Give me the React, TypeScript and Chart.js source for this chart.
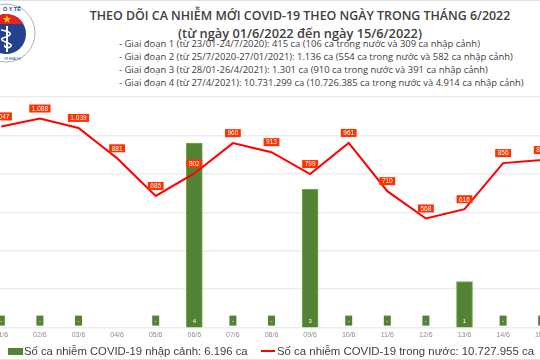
import React, { useEffect, useRef } from "react";
import { Chart, registerables } from "chart.js";

Chart.register(...registerables);

const days = ["01/6", "02/6", "03/6", "04/6", "05/6", "06/6", "07/6", "08/6", "09/6", "10/6", "11/6", "12/6", "13/6", "14/6", "15/6"];
const domestic = [1047, 1088, 1039, 881, 685, 802, 960, 913, 799, 961, 710, 568, 616, 856, 872];
const imported: (number | null)[] = [0, 0, 0, null, 0, 4, 0, 0, 3, 0, 0, 0, 1, 0, 0];

const title = "THEO DÕI CA NHIỄM MỚI COVID-19 THEO NGÀY TRONG THÁNG 6/2022";
const subtitle = "(từ ngày 01/6/2022 đến ngày 15/6/2022)";
const phases = [
  "- Giai đoạn 1 (từ 23/01-24/7/2020): 415 ca (106 ca trong nước và 309 ca nhập cảnh)",
  "- Giai đoạn 2 (từ 25/7/2020-27/01/2021): 1.136 ca (554 ca trong nước và 582 ca nhập cảnh)",
  "- Giai đoạn 3 (từ 28/01-26/4/2021): 1.301 ca (910 ca trong nước và 391 ca nhập cảnh)",
  "- Giai đoạn 4 (từ 27/4/2021): 10.731.299 ca (10.726.385 ca trong nước và 4.914 ca nhập cảnh)",
];
const legendImported = "Số ca nhiễm COVID-19 nhập cảnh: 6.196 ca";
const legendDomestic = "Số ca nhiễm COVID-19 trong nước: 10.727.955 ca";

const fmt = (v: number) => v.toString().replace(/\B(?=(\d{3})+(?!\d))/g, ".");

const labelPlugin = {
  id: "valueLabels",
  afterDatasetsDraw(chart: any) {
    const ctx = chart.ctx;
    ctx.save();
    const barMeta = chart.getDatasetMeta(0);
    ctx.font = "6px 'Liberation Sans'";
    ctx.textAlign = "center";
    ctx.textBaseline = "middle";
    barMeta.data.forEach((el: any, i: number) => {
      const v = imported[i];
      if (v === null || v === undefined) return;
      const x = el.x;
      const base = chart.scales.y1.getPixelForValue(0);
      const cy = base - 7;
      ctx.fillStyle = "#548235";
      ctx.fillRect(x - 3.5, cy - 5, 7, 10);
      ctx.fillStyle = "#ffffff";
      ctx.fillText(v === 0 ? "-" : String(v), x, cy + 0.5);
    });
    const lineMeta = chart.getDatasetMeta(1);
    ctx.font = "6.5px 'Liberation Sans'";
    lineMeta.data.forEach((el: any, i: number) => {
      const t = fmt(domestic[i]);
      const w = ctx.measureText(t).width + 5;
      const cy = el.y - 10;
      ctx.fillStyle = "#ff3300";
      ctx.fillRect(el.x - w / 2, cy - 4, w, 8);
      ctx.fillStyle = "#ffffff";
      ctx.fillText(t, el.x, cy + 0.5);
    });
    ctx.restore();
  },
};

function Logo() {
  return (
    <svg width="50" height="70" viewBox="0 0 50 70" style={{ position: "absolute", left: 0, top: 0, display: "block" }}>
      <defs>
        <clipPath id="innerClip">
          <circle cx="6" cy="34" r="20" />
        </clipPath>
      </defs>
      <circle cx="6" cy="33" r="29" fill="#ffffff" stroke="#a8b0c0" strokeWidth="1" />
      <circle cx="6" cy="34" r="20" fill="#24418f" />
      <rect x="-20" y="13" width="60" height="11" fill="#e52421" clipPath="url(#innerClip)" />
      <polygon points="7,15 8,18 11,18 8.5,20 9.5,23 7,21 4.5,23 5.5,20 3,18 6,18" fill="#ffd400" />
      <line x1="7" y1="26" x2="7" y2="52" stroke="#ffffff" strokeWidth="2" />
      <path d="M1,30 C13,32 13,35 3,38 C-3,41 13,43 11,46 C9,49 3,47 5,45" stroke="#ffffff" strokeWidth="1.6" fill="none" />
      <text x="3" y="11" fontSize="5.5" fill="#24418f" fontWeight="bold" fontFamily="Liberation Sans">O Y TẾ</text>
      <text x="4" y="60" fontSize="3" fill="#24418f" fontFamily="Liberation Sans">OF HEALTH</text>
    </svg>
  );
}

export default function App() {
  const ref = useRef<HTMLCanvasElement>(null);
  useEffect(() => {
    const chart = new Chart(ref.current as HTMLCanvasElement, {
      type: "bar",
      data: {
        labels: days,
        datasets: [
          {
            type: "bar",
            label: legendImported,
            data: imported as any,
            yAxisID: "y1",
            backgroundColor: "#548235",
            borderColor: "#70ad47",
            borderWidth: 1,
            barThickness: 16,
            order: 2,
          },
          {
            type: "line",
            label: legendDomestic,
            data: domestic,
            yAxisID: "y",
            borderColor: "#ff0000",
            borderWidth: 2,
            pointRadius: 0,
            tension: 0,
            order: 1,
          } as any,
        ],
      },
      options: {
        animation: false,
        responsive: false,
        layout: { padding: { top: 20, bottom: 4, left: 0, right: 0 } },
        plugins: { legend: { display: false }, tooltip: { enabled: false } },
        scales: {
          x: {
            offset: true,
            grid: { display: false, drawTicks: false },
            border: { display: false },
            ticks: { color: "#8c8c8c", font: { size: 7, family: "Liberation Sans" }, padding: 3 },
          },
          y: {
            min: 0,
            max: 1200,
            position: "left",
            ticks: { display: false, stepSize: 200 },
            grid: { color: "#ededed", drawTicks: false, lineWidth: 1.5 },
            border: { display: false },
          },
          y1: {
            min: 0,
            max: 5,
            display: false,
          },
        },
      },
      plugins: [labelPlugin],
    });
    return () => chart.destroy();
  }, []);

  const legendFont = "'Liberation Sans', Arial, sans-serif";
  return (
    <div
      style={{
        position: "fixed",
        left: 0,
        top: 0,
        width: 540,
        height: 360,
        overflow: "hidden",
        background: "#ffffff",
        fontFamily: "'Open Sans', sans-serif",
        color: "#404040",
      }}
    >
      <div style={{ position: "absolute", left: 0, top: 0, width: 540, height: 1, background: "#e0e0e0" }} />
      <Logo />
      <div style={{ position: "absolute", left: 60, width: 480, top: 8, textAlign: "center", fontSize: 12.4, fontWeight: 600, whiteSpace: "nowrap", lineHeight: "16px" }}>
        {title}
      </div>
      <div style={{ position: "absolute", left: 60, width: 480, top: 25, textAlign: "center", fontSize: 12.8, fontWeight: 600, whiteSpace: "nowrap", lineHeight: "16px" }}>
        {subtitle}
      </div>
      {phases.map((p, i) => (
        <div key={i} style={{ position: "absolute", left: 119, top: 37 + i * 13, fontSize: 9.45, whiteSpace: "nowrap", lineHeight: "13px" }}>
          {p}
        </div>
      ))}
      <div style={{ position: "absolute", left: -18, top: 77 }}>
        <canvas ref={ref} width={579} height={269} style={{ display: "block" }} />
      </div>
      <div style={{ position: "absolute", left: 8, top: 348, width: 15, height: 7, background: "#548235" }} />
      <div style={{ position: "absolute", left: 24, top: 343, fontSize: 11.3, fontFamily: legendFont, whiteSpace: "nowrap", lineHeight: "16px" }}>
        {legendImported}
      </div>
      <div style={{ position: "absolute", left: 261, top: 350, width: 14, height: 2, background: "#ff0000" }} />
      <div style={{ position: "absolute", left: 277, top: 343, fontSize: 11.4, fontFamily: legendFont, whiteSpace: "nowrap", lineHeight: "16px" }}>
        {legendDomestic}
      </div>
      <div style={{ position: "absolute", left: 0, top: 359, width: 540, height: 1, background: "#e0e0e0" }} />
    </div>
  );
}
